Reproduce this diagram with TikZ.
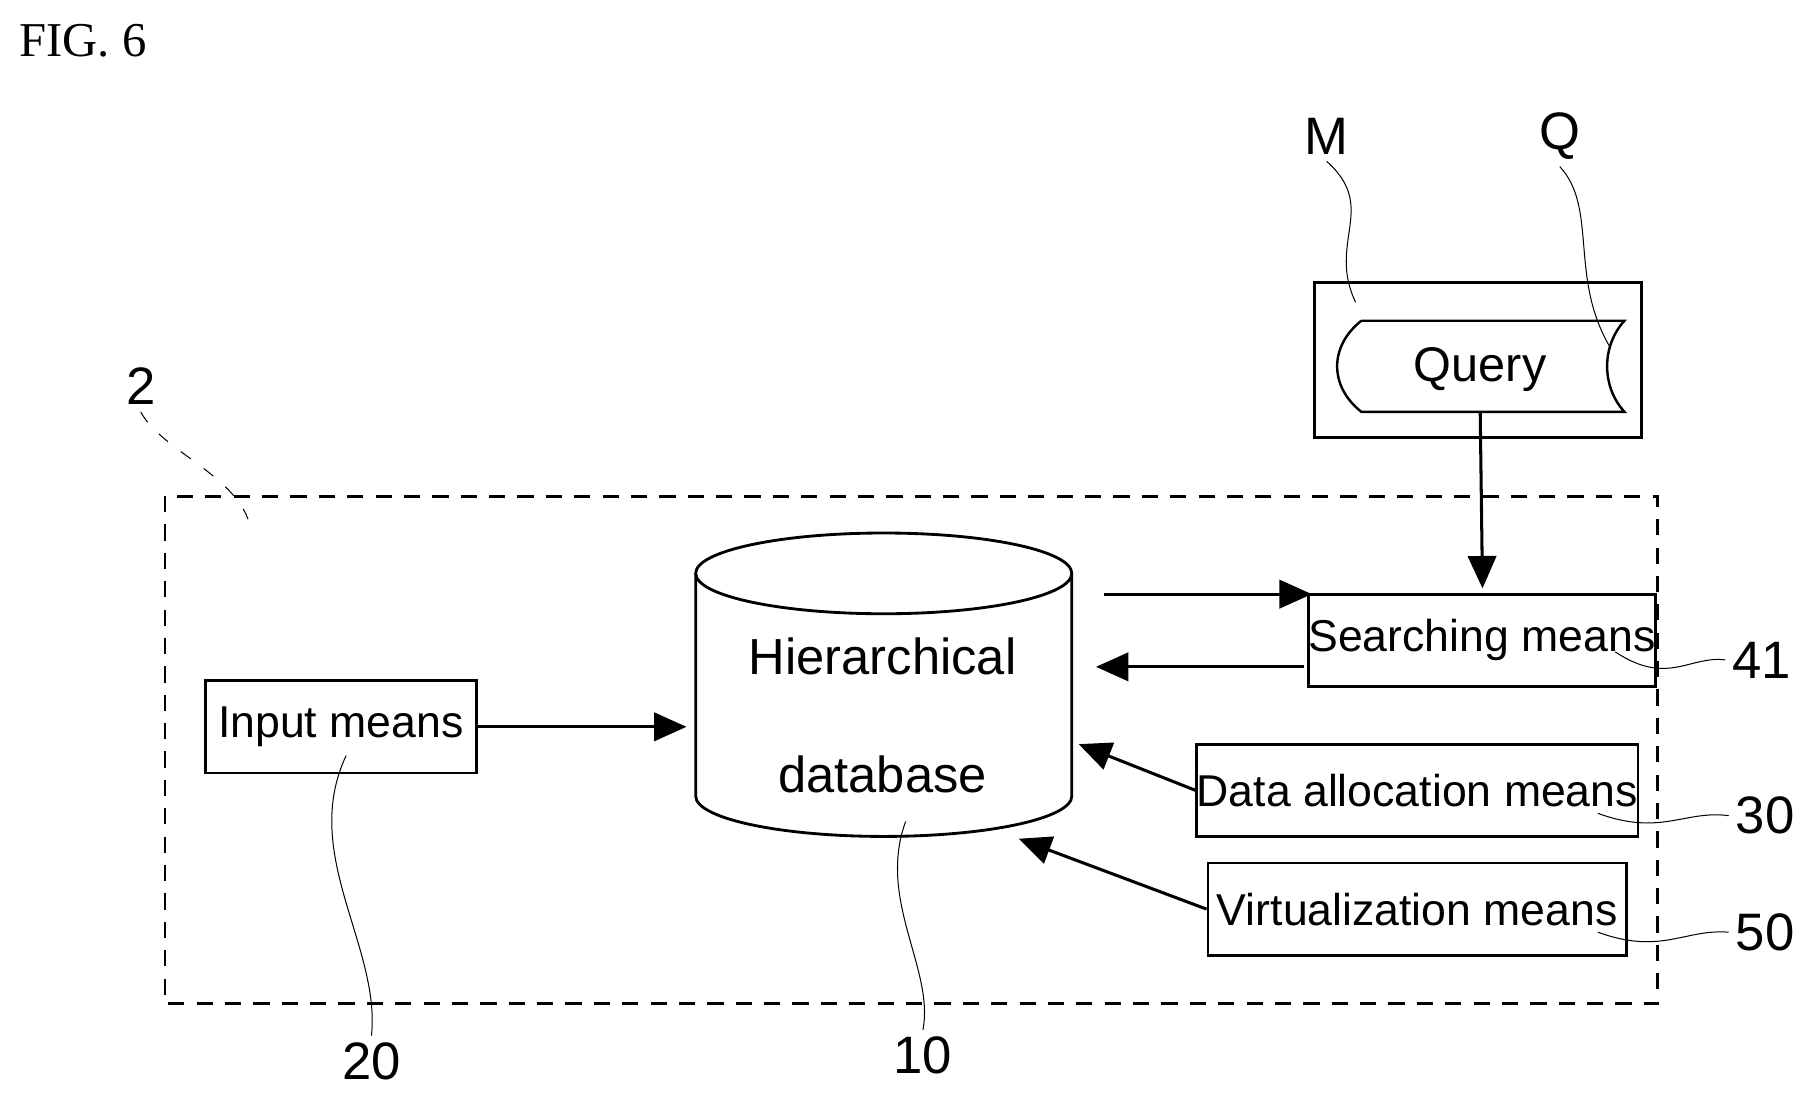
\documentclass[tikz,border=0pt]{standalone}
\usepackage{fontspec}
\setmainfont{Liberation Serif}
\setsansfont{Liberation Sans}
\usetikzlibrary{arrows.meta}
\tikzstyle{box}=[draw, line width=1.4pt, inner sep=0pt, font=\sffamily\fontsize{22}{26}\selectfont]
\tikzstyle{flow}=[line width=1.5pt, -{Triangle[length=16pt, width=14pt]}]
\tikzstyle{lead}=[line width=0.5pt]
\tikzstyle{num}=[font=\sffamily\fontsize{26}{30}\selectfont]
\newcommand{\boks}{\node[box]}

\begin{document}
\begin{tikzpicture}[x=0.02cm, y=-0.02cm]
\useasboundingbox (0,0) rectangle (1568,955);
\node[font=\fontsize{24}{28}\selectfont] (fig) at (72,35) {FIG. 6};
% outer system
\draw[line width=1.4pt, dash pattern=on 8pt off 6pt] (143,430) rectangle (1437,870);
% medium with query
\boks[minimum width=5.66cm, minimum height=2.7cm] (medium) at (1281,312) {};
\draw[line width=1.2pt] (1180,278) -- (1408,278) .. controls (1388,300) and (1388,335) .. (1408,357)
  -- (1180,357) .. controls (1152,335) and (1152,300) .. (1180,278);
\node[font=\sffamily\fontsize{24}{28}\selectfont] (query) at (1283,320) {Query};
% database
\draw[line width=1.4pt] (603,497) -- (603,690) arc[start angle=180, end angle=360, x radius=163, y radius=-35]
  -- (929,497);
\draw[line width=1.4pt] (766,497) ellipse[x radius=163, y radius=35];
\node[align=center, font=\sffamily\fontsize{25}{58}\selectfont] (db) at (765,620) {Hierarchical\\database};
\boks[minimum width=4.7cm, minimum height=1.6cm] (input) at (295.5,630) {Input means};
\boks[minimum width=4.7cm, minimum height=1.6cm] (search) at (1284.5,555) {Searching means};
\boks[minimum width=7.26cm, minimum height=1.6cm] (alloc) at (1228.5,685) {Data allocation means};
\boks[minimum width=7.26cm, minimum height=1.6cm] (virt) at (1228.5,788) {Virtualization means};
\coordinate (dbin) at (595,630);
\coordinate (dbout) at (957,515);
\coordinate (srin) at (1137,515);
\coordinate (srout) at (1130,578);
\coordinate (dbret) at (950,578);
\coordinate (dbal) at (935,645);
\coordinate (dbvi) at (883,727);
\draw[flow] (query.south |- 0,357) -- (1285,510);
\draw[flow] (input) -- (dbin);
\draw[flow] (dbout) -- (srin);
\draw[flow] (srout) -- (dbret);
\draw[flow] (alloc.west) -- (dbal);
\draw[flow] (virt.west) -- (dbvi);
% reference numerals
\node[num] (n41) at (1527,572) {41};
\node[num] (n30) at (1530,707) {30};
\node[num] (n50) at (1530,808) {50};
\node[num] (n20) at (322,920) {20};
\node[num] (n10) at (800,915) {10};
\node[num] (nM) at (1150,118) {M};
\node[num] (nQ) at (1352,118) {Q};
\node[num] (n2) at (122,335) {2};
\draw[lead] (1400,565) .. controls (1445,595) and (1465,568) .. (n41.west);
\draw[lead] (1385,705) .. controls (1440,725) and (1460,702) .. (n30.west);
\draw[lead] (1385,808) .. controls (1440,828) and (1460,805) .. (n50.west);
\draw[lead] (300,655) .. controls (260,740) and (330,820) .. (n20.north);
\draw[lead] (785,712) .. controls (760,780) and (810,840) .. (n10.north);
\draw[lead] (1175,262) .. controls (1150,210) and (1195,180) .. (nM.south);
\draw[lead] (1395,300) .. controls (1360,240) and (1385,180) .. (nQ.south);
\draw[lead, dash pattern=on 6pt off 8pt] (n2.south) .. controls (140,390) and (200,410) .. (215,450);
\end{tikzpicture}
\end{document}
